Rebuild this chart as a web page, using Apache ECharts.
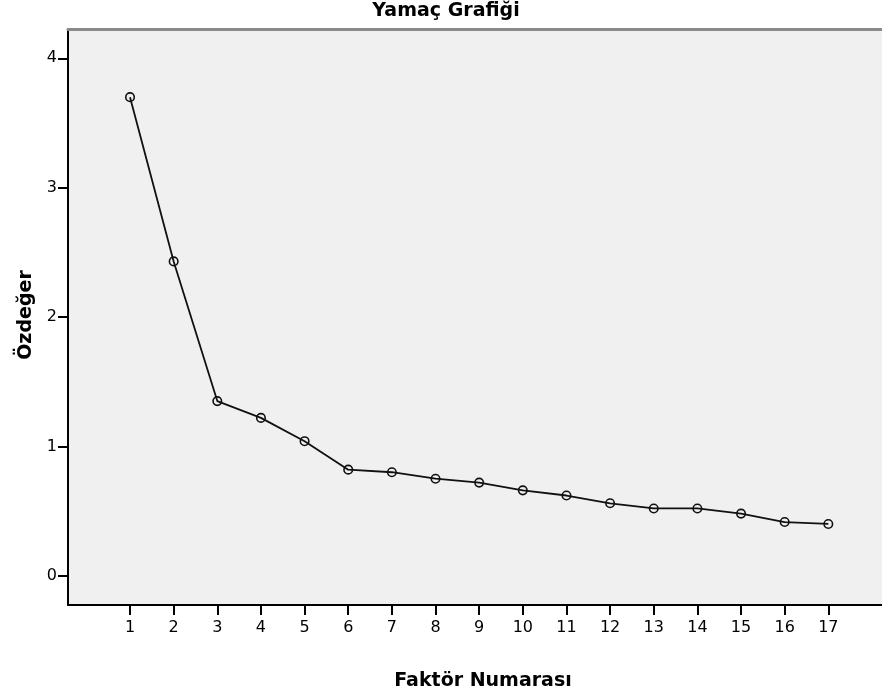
<!DOCTYPE html>
<html>
<head>
<meta charset="utf-8">
<script src="https://cdn.jsdelivr.net/npm/echarts@6/dist/echarts.min.js"></script>
<style>
html,body{margin:0;padding:0;background:#fff;}
#c{width:882px;height:695px;}
</style>
</head>
<body>
<div id="c"></div>
<script>
const factors = [1,2,3,4,5,6,7,8,9,10,11,12,13,14,15,16,17];
const eigenvalues = [3.70,2.43,1.35,1.22,1.04,0.82,0.80,0.75,0.72,0.66,0.62,0.56,0.52,0.52,0.48,0.415,0.40];
const yTicks = [0,1,2,3,4];
const xTicks = factors;
const titleText = 'Yamaç Grafiği';
const xName = 'Faktör Numarası';
const yName = 'Özdeğer';

const font = '"DejaVu Sans", sans-serif';
const chart = echarts.init(document.getElementById('c'));
chart.setOption({
  animation: false,
  graphic: [
    {type: 'text', x: 446, y: 11.5, style: {text: titleText, font: 'bold 19px "DejaVu Sans"', fill: '#000', align: 'center', verticalAlign: 'middle'}},
    {type: 'text', x: 483, y: 681.5, style: {text: xName, font: 'bold 19px "DejaVu Sans"', fill: '#000', align: 'center', verticalAlign: 'middle'}},
    {type: 'text', x: 26, y: 315, rotation: Math.PI / 2, style: {text: yName, font: 'bold 19px "DejaVu Sans"', fill: '#000', align: 'center', verticalAlign: 'middle'}}
  ],
  grid: {
    left: 68, right: 0, top: 29.5, bottom: 90,
    show: true, backgroundColor: '#f0f0f0', borderWidth: 0
  },
  xAxis: [{
    type: 'value', min: -0.421, max: 18.23, position: 'bottom',
    axisLine: {show: true, onZero: false, lineStyle: {color: '#000', width: 2}},
    axisTick: {show: true, length: 10, customValues: xTicks, lineStyle: {color: '#000', width: 2}},
    axisLabel: {customValues: xTicks, fontFamily: font, fontSize: 16, color: '#000', margin: 15},
    splitLine: {show: false}
  },{
    type: 'value', min: -0.421, max: 18.23, position: 'top',
    axisLine: {show: true, onZero: false, lineStyle: {color: '#8a8a8a', width: 3}},
    axisTick: {show: false}, axisLabel: {show: false}, splitLine: {show: false}
  }],
  yAxis: {
    type: 'value', min: -0.2265, max: 4.223,
    axisLine: {show: true, onZero: false, lineStyle: {color: '#000', width: 2}},
    axisTick: {show: true, length: 10, customValues: yTicks, lineStyle: {color: '#000', width: 2}},
    axisLabel: {customValues: yTicks, fontFamily: font, fontSize: 16, color: '#000', margin: 11},
    splitLine: {show: false}
  },
  series: [{
    type: 'line',
    data: factors.map((f, i) => [f, eigenvalues[i]]),
    symbol: 'circle', symbolSize: 8.5,
    showAllSymbol: true,
    lineStyle: {color: '#111', width: 1.8},
    itemStyle: {color: 'transparent', borderColor: '#111', borderWidth: 1.6}
  }]
});
</script>
</body>
</html>
